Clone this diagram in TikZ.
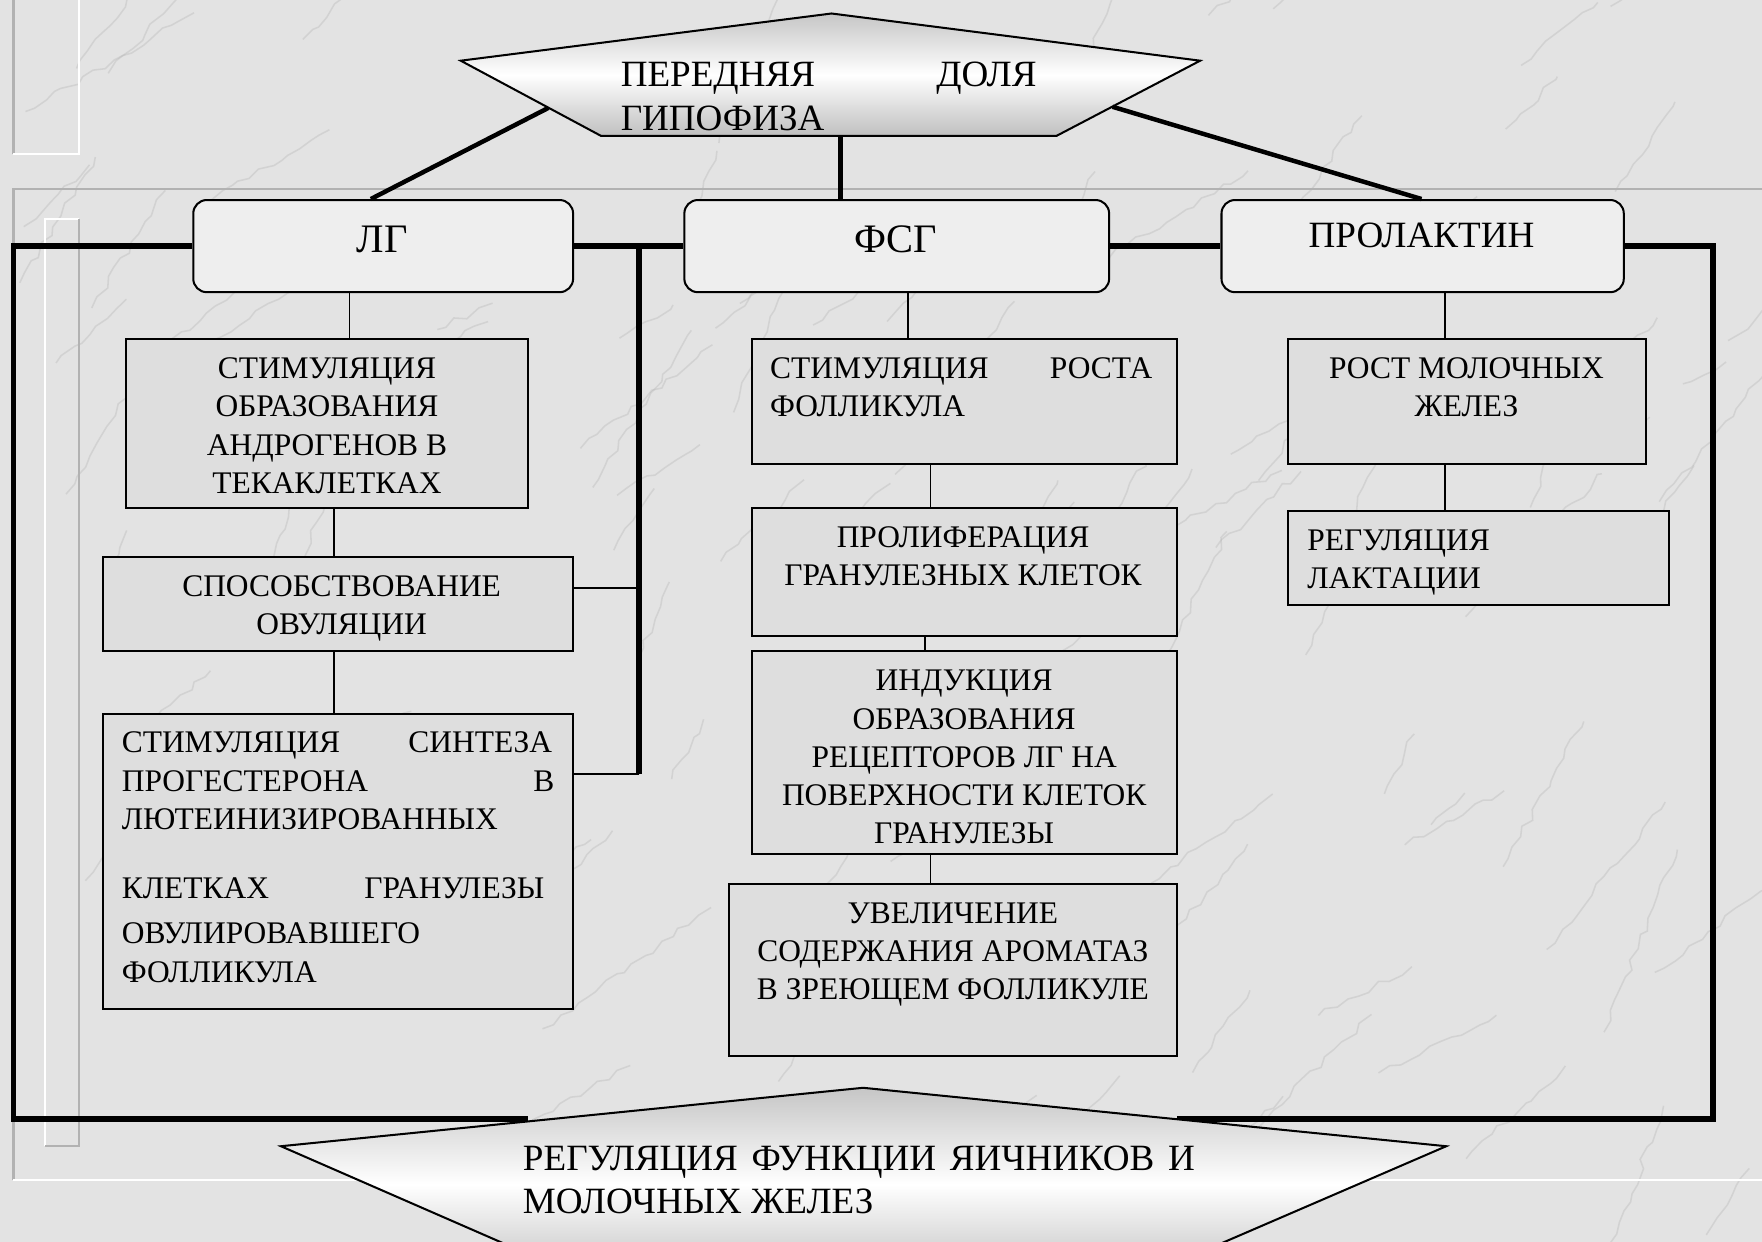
\documentclass[tikz,border=0pt]{standalone}
\usepackage{fontspec}
\setmainfont{Liberation Serif}
\usetikzlibrary{decorations.pathmorphing}
\definecolor{bgc}{HTML}{E3E3E3}
\definecolor{boxc}{HTML}{DEDEDE}
\definecolor{hdrc}{HTML}{EEEEEE}
\definecolor{veinc}{HTML}{ADADAD}
\begin{document}
\begin{tikzpicture}[x=0.5pt,y=-0.5pt,
  box/.style={draw=black, line width=0.9pt, fill=boxc, inner sep=0pt},
  hdr/.style={draw=black, line width=0.9pt, fill=hdrc, rounded corners=6pt, inner sep=0pt},
  txt/.style={inner sep=0pt, font=\fontsize{14}{17}\selectfont},
  htxt/.style={inner sep=0pt, font=\fontsize{18}{21}\selectfont},
  ptxt/.style={inner sep=0pt, font=\fontsize{16.5}{19.5}\selectfont},
  frame/.style={line width=2.6pt, line join=miter},
  conn/.style={line width=2pt},
  thinc/.style={line width=0.8pt},
  pent/.style={draw=black, line width=0.9pt, top color=gray!45, bottom color=gray!50, middle color=white},
  deco/.style={line width=1pt}]
\clip (0,0) rectangle (1568,1105);
\fill[bgc] (0,0) rectangle (1568,1105);
% marble veins
\pgfmathsetseed{11}
\foreach \i in {1,...,110}{
  \pgfmathsetmacro\xx{rnd*1600-20}
  \pgfmathsetmacro\yy{rnd*1150-20}
  \pgfmathsetmacro\ang{-25-rnd*45}
  \pgfmathsetmacro\len{40+rnd*150}
  \draw[veinc, line width=0.7pt, opacity=0.3, decorate,
        decoration={random steps,segment length=5pt,amplitude=1.5pt}]
        (\xx,\yy) -- ++(\ang:\len);
}
% slide decoration lines
\draw[deco, gray!60] (12,1050) -- (12,168) -- (1568,168);
\draw[deco, white] (12,1050) -- (1568,1050);
\draw[deco, gray!60] (12,0) -- (12,137);
\draw[deco, white] (12,137) -- (70,137) -- (70,0);
\draw[deco, white] (40,1020) -- (40,195) -- (70,195);
\draw[deco, gray!60] (70,195) -- (70,1020) -- (40,1020);

% header boxes
\node[hdr, minimum width=169pt, minimum height=41pt] (HLG) at (341,219) {};
\node[hdr, minimum width=189pt, minimum height=41pt] (HFSG) at (798,219) {};
\node[hdr, minimum width=179pt, minimum height=41pt] (HPRL) at (1266,219) {};

% coordinates for the frame
\coordinate (cBL) at (12,996);
\coordinate (cBR) at (1524,996);
\coordinate (bpL) at (470,996);
\coordinate (bpR) at (1047,996);
\coordinate (jL) at (569,219);
\coordinate (kL3) at (569,689);

% frame lines
\draw[frame] (HLG.west) -| (cBL) -- (bpL);
\draw[frame] (HPRL.east) -| (cBR) -- (bpR);
\draw[frame] (HLG.east) -- (HFSG.west);
\draw[frame] (HFSG.east) -- (HPRL.west);
\draw[frame] (jL) -- (kL3);

% content boxes
\node[box, minimum width=179pt, minimum height=75pt] (L1) at (291,377) {};
\node[box, minimum width=209pt, minimum height=41.5pt] (L2) at (301,537.5) {};
\node[box, minimum width=209pt, minimum height=131.5pt] (L3) at (301,766.5) {};
\node[box, minimum width=189pt, minimum height=55.5pt] (F1) at (858,357.5) {};
\node[box, minimum width=189pt, minimum height=57pt] (F2) at (858,509) {};
\node[box, minimum width=189pt, minimum height=90.5pt] (F3) at (858,669.5) {};
\node[box, minimum width=199pt, minimum height=76.5pt] (F4) at (848,863.5) {};
\node[box, minimum width=159.5pt, minimum height=55.5pt] (P1) at (1305.5,357.5) {};
\node[box, minimum width=169.5pt, minimum height=41.5pt] (P2) at (1315.5,496.5) {};

% thin connectors
\draw[thinc] (HLG.south -| 311,0) -- (L1.north -| 311,0);
\draw[thinc] (L1.south -| 297,0) -- (L2.north -| 297,0);
\draw[thinc] (L2.south -| 297,0) -- (L3.north -| 297,0);
\draw[thinc] (HFSG.south -| 808,0) -- (F1.north -| 808,0);
\draw[thinc] (F1.south -| 828,0) -- (F2.north -| 828,0);
\draw[thinc] (F2.south -| 823,0) -- (F3.north -| 823,0);
\draw[thinc] (F3.south -| 828,0) -- (F4.north -| 828,0);
\draw[thinc] (HPRL.south -| 1286,0) -- (P1.north -| 1286,0);
\draw[thinc] (P1.south -| 1286,0) -- (P2.north -| 1286,0);
\draw[thinc] (kL3) -- (L3.east |- kL3);
\draw[thinc] (L2.east |- 0,523) -- (569,523);

% header texts
\node[htxt, anchor=base] (tHLG) at (340,225) {ЛГ};
\node[htxt, anchor=base] (tHFSG) at (797,225) {ФСГ};
\node[ptxt, anchor=base] (tHPRL) at (1265,220) {ПРОЛАКТИН};

% box texts
\node[txt, anchor=north, align=center] (tL1) at (291,318)
  {СТИМУЛЯЦИЯ\\ОБРАЗОВАНИЯ\\АНДРОГЕНОВ В\\ТЕКАКЛЕТКАХ};
\node[txt, anchor=north, align=center] (tL2) at (304,512)
  {СПОСОБСТВОВАНИЕ\\ОВУЛЯЦИИ};
\node[txt, anchor=north west, align=left] (tL3) at (108,651)
  {\makebox[191.5pt][s]{СТИМУЛЯЦИЯ СИНТЕЗА}\\
   \makebox[192.5pt][s]{ПРОГЕСТЕРОНА В}\\
   ЛЮТЕИНИЗИРОВАННЫХ\\[14pt]
   \makebox[188pt][s]{КЛЕТКАХ ГРАНУЛЕЗЫ}\\[3pt]
   ОВУЛИРОВАВШЕГО\\
   ФОЛЛИКУЛА};
\node[txt, anchor=north west, align=left] (tF1) at (685,318)
  {\makebox[170pt][s]{СТИМУЛЯЦИЯ РОСТА}\\ФОЛЛИКУЛА};
\node[txt, anchor=north, align=center] (tF2) at (857,468)
  {ПРОЛИФЕРАЦИЯ\\ГРАНУЛЕЗНЫХ КЛЕТОК};
\node[txt, anchor=north, align=center] (tF3) at (858,596)
  {ИНДУКЦИЯ\\ОБРАЗОВАНИЯ\\РЕЦЕПТОРОВ ЛГ НА\\ПОВЕРХНОСТИ КЛЕТОК\\ГРАНУЛЕЗЫ};
\node[txt, anchor=north, align=center] (tF4) at (848,803)
  {УВЕЛИЧЕНИЕ\\СОДЕРЖАНИЯ АРОМАТАЗ\\В ЗРЕЮЩЕМ ФОЛЛИКУЛЕ};
\node[txt, anchor=north, align=center] (tP1) at (1305,318)
  {РОСТ МОЛОЧНЫХ\\ЖЕЛЕЗ};
\node[txt, anchor=north west, align=left] (tP2) at (1163,471)
  {РЕГУЛЯЦИЯ\\ЛАКТАЦИИ};

% top pentagon
\path[pent] (410,54) -- (740,12) -- (1068,54) -- (940,121) -- (535,121) -- cycle;
\node[ptxt, anchor=north west, align=left] (tTop) at (552,55)
  {\makebox[185pt][s]{ПЕРЕДНЯЯ ДОЛЯ}\\ГИПОФИЗА};
\coordinate (tpL) at (488,96);
\coordinate (tpR) at (990,95);
\coordinate (tpB) at (748,121);
\draw[conn] (tpL) -- (HLG.north -| 330,0);
\draw[conn] (tpR) -- (HPRL.north -| 1265,0);
\draw[conn] (tpB) -- (HFSG.north -| 748,0);

% bottom pentagon
\path[pent] (250,1020) -- (768,968) -- (1287,1020) -- (1009,1140) -- (525,1140) -- cycle;
\node[ptxt, anchor=north west, align=left] (tBot) at (465,1019)
  {\makebox[299pt][s]{РЕГУЛЯЦИЯ ФУНКЦИИ ЯИЧНИКОВ И}\\МОЛОЧНЫХ ЖЕЛЕЗ};
\end{tikzpicture}
\end{document}
